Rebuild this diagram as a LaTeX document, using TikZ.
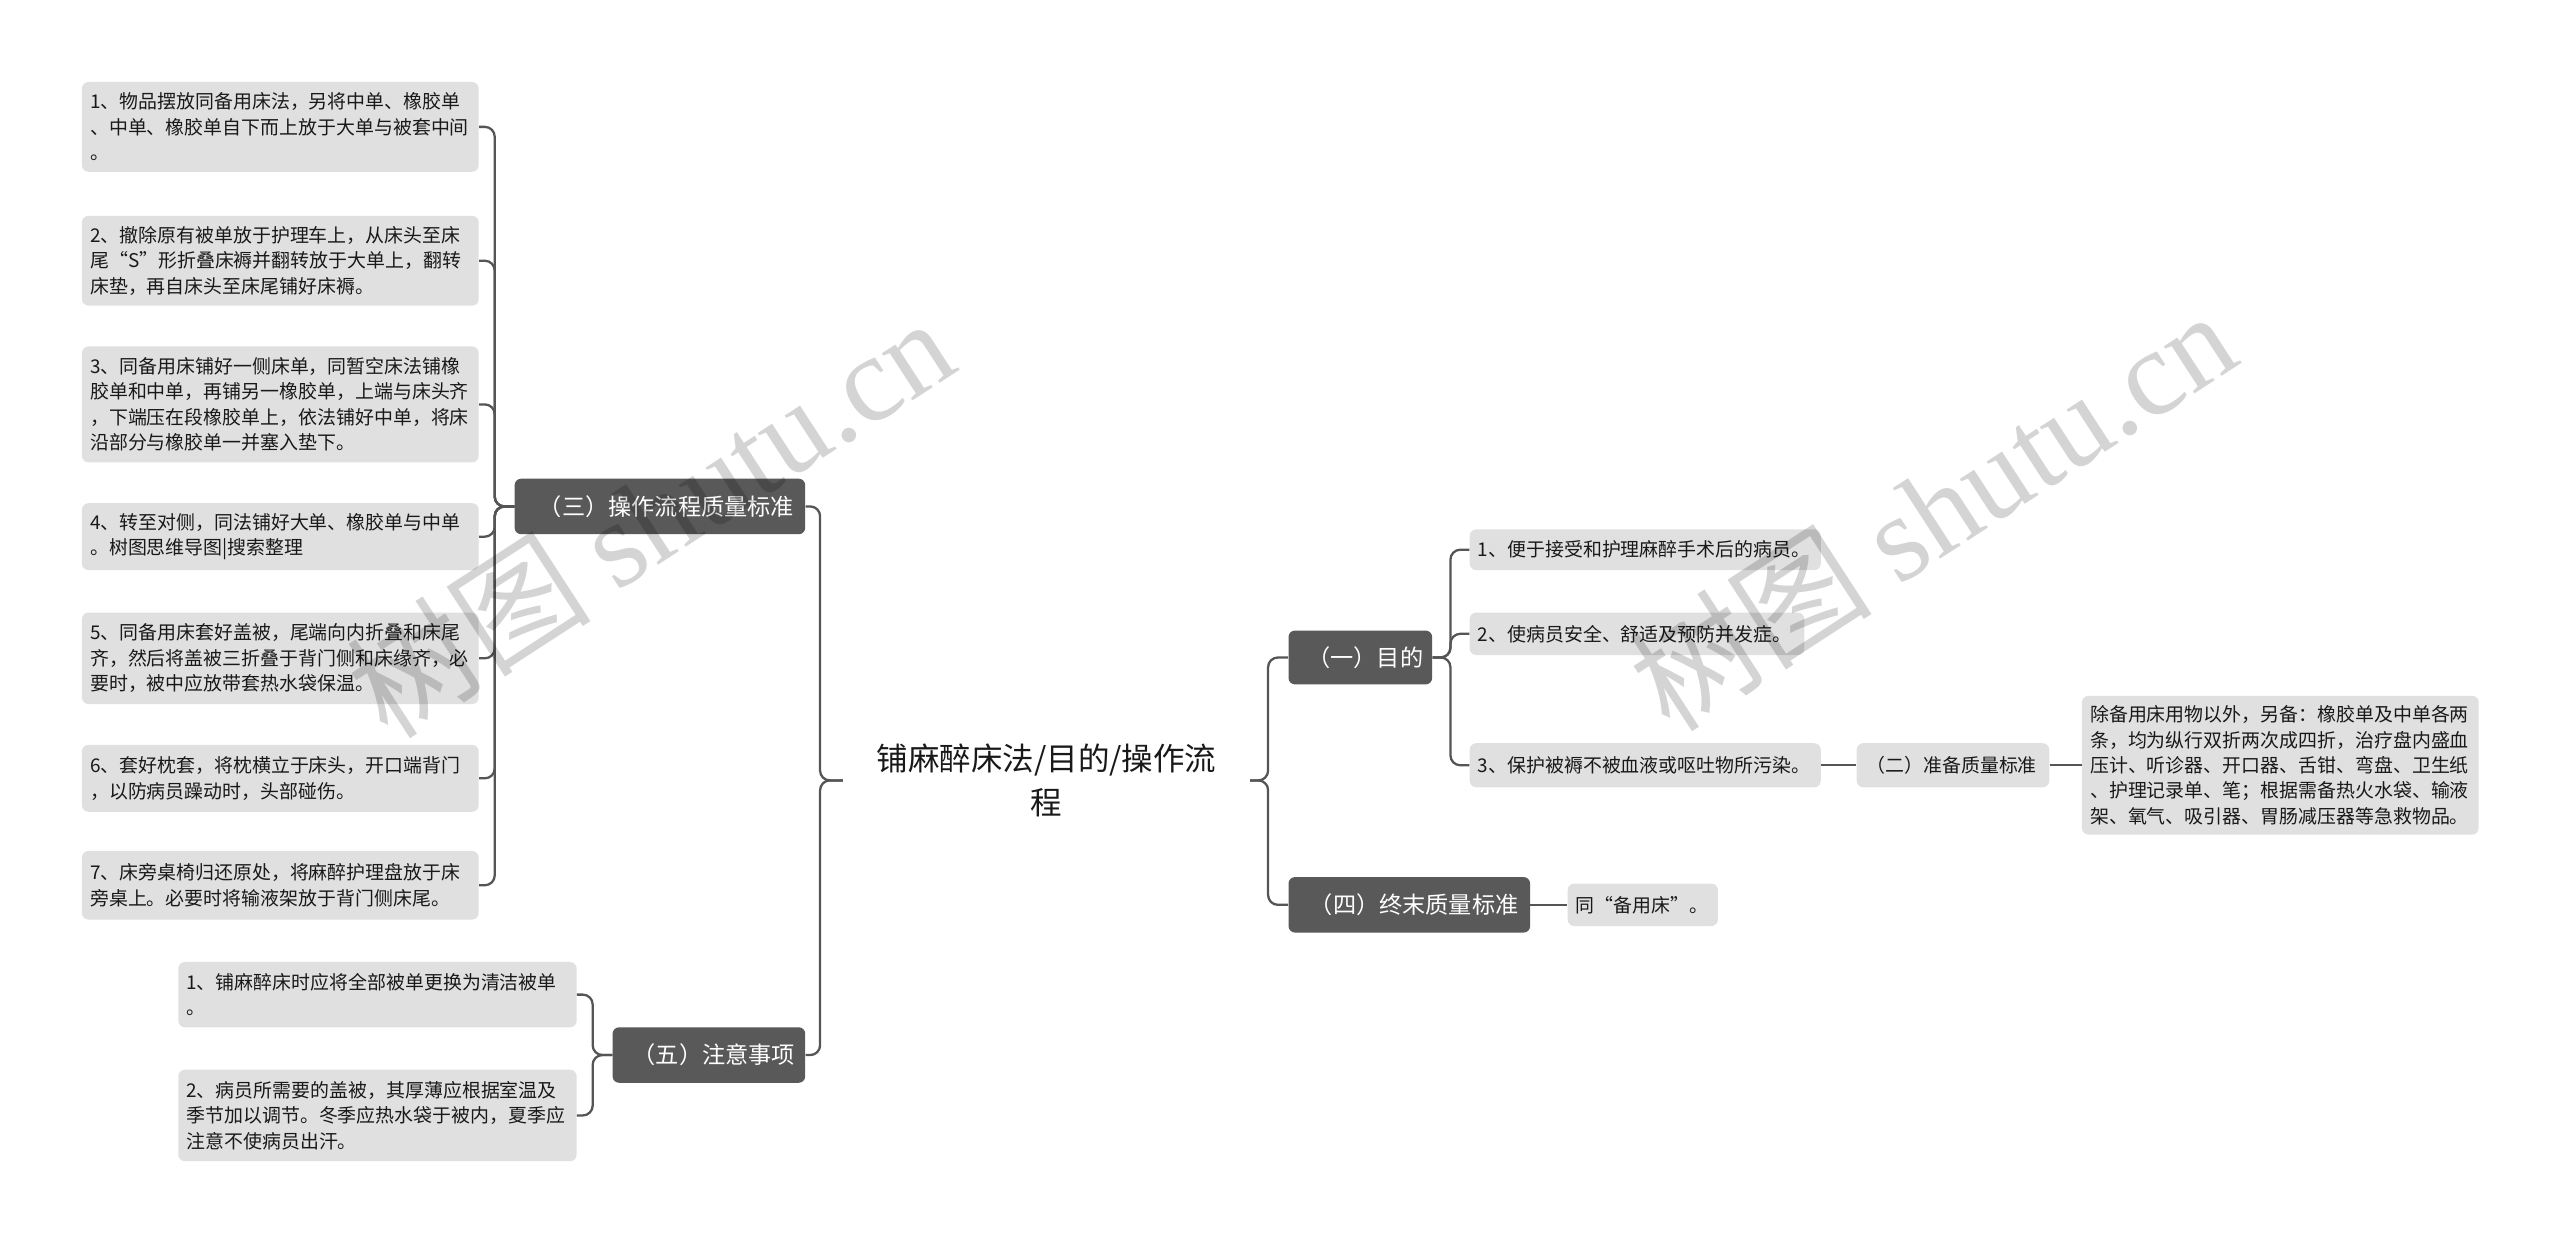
\documentclass[tikz,border=0pt]{standalone}
\usepackage{fontspec}
\setmainfont{Noto Sans CJK SC}
\newfontfamily\wmlatin{Liberation Serif}
\definecolor{darkbox}{HTML}{595959}
\definecolor{leafbg}{HTML}{E0E0E0}
\definecolor{linec}{HTML}{555555}
\begin{document}
\begin{tikzpicture}[x=1pt,y=-1pt,
  leaf/.style={fill=leafbg, rounded corners=4pt, anchor=north west, inner xsep=5pt, inner ysep=0pt,
    align=left, font=\fontsize{11.6}{15.6}\selectfont, text=black!90},
  dark/.style={fill=darkbox, rounded corners=4pt, anchor=north west, inner sep=0pt,
    align=center, font=\fontsize{14.2}{17}\selectfont, text=white},
  conn/.style={draw=linec, line width=1.4pt, rounded corners=6pt},
  wmark/.style={text=black, opacity=0.17, rotate=33, font=\fontsize{75}{75}\selectfont},
]
\useasboundingbox (0,0) rectangle (1568,761);

% root
\node[minimum width=249pt, minimum height=60pt, inner sep=0pt, align=center,
  font=\fontsize{19.3}{27}\selectfont, text=black!90] (root) at (641,478) {铺麻醉床法/目的/操作流\\程};

% left branch (三)
\node[dark, minimum width=178pt, minimum height=34pt] (three) at (315,293) {\hspace*{8pt}（三）操作流程质量标准};
\node[leaf, minimum width=243pt, minimum height=55pt, text width=233pt] (L1) at (50,50)
  {1、物品摆放同备用床法，另将中单、橡胶单\\、中单、橡胶单自下而上放于大单与被套中间\\。};
\node[leaf, minimum width=243pt, minimum height=55pt, text width=233pt] (L2) at (50,132)
  {2、撤除原有被单放于护理车上，从床头至床\\尾“S”形折叠床褥并翻转放于大单上，翻转\\床垫，再自床头至床尾铺好床褥。};
\node[leaf, minimum width=243pt, minimum height=71pt, text width=233pt] (L3) at (50,212)
  {3、同备用床铺好一侧床单，同暂空床法铺橡\\胶单和中单，再铺另一橡胶单，上端与床头齐\\，下端压在段橡胶单上，依法铺好中单，将床\\沿部分与橡胶单一并塞入垫下。};
\node[leaf, minimum width=243pt, minimum height=41pt, text width=233pt] (L4) at (50,308)
  {4、转至对侧，同法铺好大单、橡胶单与中单\\。树图思维导图|搜索整理};
\node[leaf, minimum width=243pt, minimum height=56pt, text width=233pt] (L5) at (50,375)
  {5、同备用床套好盖被，尾端向内折叠和床尾\\齐，然后将盖被三折叠于背门侧和床缘齐，必\\要时，被中应放带套热水袋保温。};
\node[leaf, minimum width=243pt, minimum height=41pt, text width=233pt] (L6) at (50,456)
  {6、套好枕套，将枕横立于床头，开口端背门\\，以防病员躁动时，头部碰伤。};
\node[leaf, minimum width=243pt, minimum height=42pt, text width=233pt] (L7) at (50,521)
  {7、床旁桌椅归还原处，将麻醉护理盘放于床\\旁桌上。必要时将输液架放于背门侧床尾。};

% left branch (五)
\node[dark, minimum width=118pt, minimum height=34pt] (five) at (375,629) {\hspace*{6pt}（五）注意事项};
\node[leaf, minimum width=244pt, minimum height=40pt, text width=234pt] (F1) at (109,589)
  {1、铺麻醉床时应将全部被单更换为清洁被单\\。};
\node[leaf, minimum width=244pt, minimum height=56pt, text width=234pt] (F2) at (109,655)
  {2、病员所需要的盖被，其厚薄应根据室温及\\季节加以调节。冬季应热水袋于被内，夏季应\\注意不使病员出汗。};

% right branch (一)
\node[dark, minimum width=88pt, minimum height=33pt] (one) at (789,386) {\hspace*{6pt}（一）目的};
\node[leaf, minimum width=213pt, minimum height=25pt, text width=205pt] (O1) at (900,324)
  {1、便于接受和护理麻醉手术后的病员。};
\node[leaf, minimum width=203pt, minimum height=26pt, text width=195pt] (O2) at (900,375)
  {2、使病员安全、舒适及预防并发症。};
\node[leaf, minimum width=213pt, minimum height=27pt, text width=205pt] (O3) at (900,455)
  {3、保护被褥不被血液或呕吐物所污染。};
\node[leaf, minimum width=116pt, minimum height=27pt, text width=108pt] (two) at (1137,455)
  {\hspace*{1pt}（二）准备质量标准};
\node[leaf, minimum width=243pt, minimum height=85pt, text width=233pt] (big) at (1275,426)
  {除备用床用物以外，另备：橡胶单及中单各两\\条，均为纵行双折两次成四折，治疗盘内盛血\\压计、听诊器、开口器、舌钳、弯盘、卫生纸\\、护理记录单、笔；根据需备热火水袋、输液\\架、氧气、吸引器、胃肠减压器等急救物品。};

% right branch (四)
\node[dark, minimum width=148pt, minimum height=34pt] (four) at (789,537) {\hspace*{6pt}（四）终末质量标准};
\node[leaf, minimum width=92pt, minimum height=26pt, text width=82pt] (S1) at (960,541)
  {同“备用床”。};

% connectors
\draw[conn] (root.west) -- ++(-14,0) |- (three.east);
\draw[conn] (root.west) -- ++(-14,0) |- (five.east);
\foreach \n in {L1,L2,L3,L4,L5,L6,L7}
  \draw[conn] (three.west) -- ++(-12,0) |- (\n.east);
\draw[conn] (five.west) -- ++(-12,0) |- (F1.east);
\draw[conn] (five.west) -- ++(-12,0) |- (F2.east);
\draw[conn] (root.east) -- ++(11,0) |- (one.west);
\draw[conn] (root.east) -- ++(11,0) |- (four.west);
\foreach \n in {O1,O2,O3}
  \draw[conn] (one.east) -- ++(11,0) |- (\n.west);
\draw[conn] (O3.east) -- (two.west);
\draw[conn] (two.east) -- (big.west);
\draw[conn] (four.east) -- (S1.west);

% watermarks
\node[wmark] (wm1) at (398,316) {树图 {\wmlatin shutu.cn}};
\node[wmark] (wm2) at (1183,312) {树图 {\wmlatin shutu.cn}};
\end{tikzpicture}
\end{document}
